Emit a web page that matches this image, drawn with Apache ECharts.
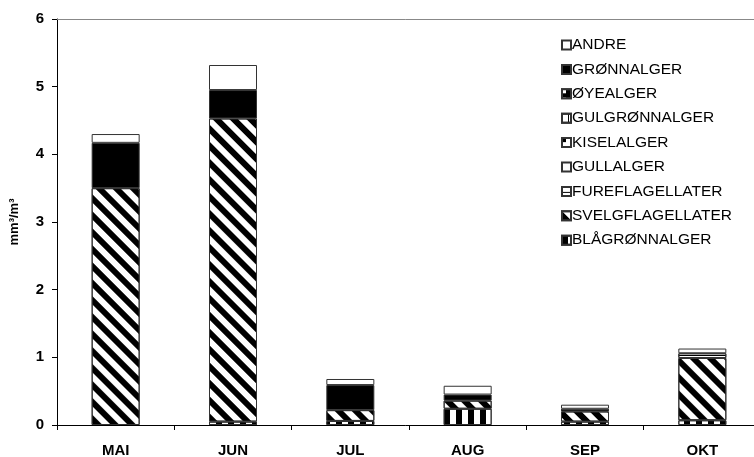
<!DOCTYPE html>
<html>
<head>
<meta charset="utf-8">
<script src="https://cdn.jsdelivr.net/npm/echarts@6/dist/echarts.min.js"></script>
<style>html,body{margin:0;padding:0;background:#fff}#c{width:754px;height:457px}</style>
</head>
<body>
<div id="c"></div>
<script>
var categories = ['MAI', 'JUN', 'JUL', 'AUG', 'SEP', 'OKT'];
var yTicks = [0, 1, 2, 3, 4, 5, 6];
var blagronnalger = [0, 0.05, 0.06, 0.24, 0.05, 0.07];
var svelgflagellater = [3.50, 4.48, 0.16, 0.12, 0.15, 0.92];
var fureflagellater = [0, 0, 0, 0, 0.04, 0.07];
var gullalger = [0, 0, 0, 0, 0, 0];
var kiselalger = [0, 0, 0, 0, 0, 0];
var gulgronnalger = [0, 0, 0, 0, 0, 0];
var oyealger = [0, 0, 0, 0, 0, 0];
var gronnalger = [0.67, 0.42, 0.37, 0.09, 0, 0];
var andre = [0.13, 0.37, 0.09, 0.13, 0.06, 0.07];

var FONT = 'Liberation Sans, Arial, sans-serif';

var seriesDefs = [
  {name: 'BLÅGRØNNALGER', data: blagronnalger, color: '#fff',
   decal: {symbol: 'rect', symbolSize: 1, color: '#000', dashArrayX: [6, 6], dashArrayY: [1, 0], rotation: 0}},
  {name: 'SVELGFLAGELLATER', data: svelgflagellater, color: '#fff',
   decal: {symbol: 'rect', symbolSize: 1, color: '#000', dashArrayX: [1, 0], dashArrayY: [6, 6], rotation: Math.PI / 4}},
  {name: 'FUREFLAGELLATER', data: fureflagellater, color: '#fff',
   decal: {symbol: 'rect', symbolSize: 1, color: '#000', dashArrayX: [1, 0], dashArrayY: [1, 4], rotation: 0}},
  {name: 'GULLALGER', data: gullalger, color: '#fff', decal: null},
  {name: 'KISELALGER', data: kiselalger, color: '#fff',
   decal: {symbol: 'rect', symbolSize: 1, color: '#000', dashArrayX: [4, 4], dashArrayY: [4, 4], rotation: 0}},
  {name: 'GULGRØNNALGER', data: gulgronnalger, color: '#fff',
   decal: {symbol: 'rect', symbolSize: 1, color: '#000', dashArrayX: [1, 0], dashArrayY: [1, 6], rotation: Math.PI / 2}},
  {name: 'ØYEALGER', data: oyealger, color: '#000',
   decal: {symbol: 'rect', symbolSize: 1, color: '#fff', dashArrayX: [4, 4], dashArrayY: [4, 4], rotation: 0}},
  {name: 'GRØNNALGER', data: gronnalger, color: '#000', decal: null},
  {name: 'ANDRE', data: andre, color: '#fff', decal: null}
];

var series = seriesDefs.map(function (d) {
  var st = {color: d.color, borderColor: '#333', borderWidth: 1};
  if (d.decal) st.decal = d.decal;
  return {
    name: d.name,
    type: 'bar',
    stack: 'total',
    barWidth: 48,
    data: d.data.map(function (v) { return v > 0 ? v : null; }),
    itemStyle: st,
    emphasis: {disabled: true},
    animation: false
  };
});

var legendOrder = seriesDefs.map(function (d) { return d.name; }).reverse();

var chart = echarts.init(document.getElementById('c'), null, {renderer: 'canvas'});
chart.setOption({
  backgroundColor: '#fff',
  animation: false,
  grid: {left: 57, right: -7, top: 19, bottom: 32, containLabel: false, outerBoundsMode: 'none'},
  legend: {
    orient: 'vertical',
    left: 561,
    top: 37,
    padding: 0,
    data: legendOrder,
    icon: 'rect',
    itemWidth: 9,
    itemHeight: 9,
    itemGap: 8.4,
    selectedMode: false,
    textStyle: {fontFamily: FONT, fontSize: 15.5, color: '#000', lineHeight: 16, padding: [0, 0, 0, -4]}
  },
  xAxis: [{
    type: 'category',
    data: categories,
    axisLine: {lineStyle: {color: '#000', width: 1}},
    axisTick: {show: true, length: 5, lineStyle: {color: '#000'}},
    axisLabel: {fontFamily: FONT, fontSize: 15, fontWeight: 'bold', color: '#000', margin: 18}
  }, {
    type: 'category',
    position: 'top',
    data: categories,
    axisLine: {show: true, lineStyle: {color: '#888', width: 1}},
    axisTick: {show: false},
    axisLabel: {show: false}
  }],
  yAxis: {
    type: 'value',
    min: yTicks[0],
    max: yTicks[yTicks.length - 1],
    interval: 1,
    name: 'mm³/m³',
    nameLocation: 'middle',
    nameRotate: 90,
    nameGap: 36,
    nameTextStyle: {fontFamily: FONT, fontSize: 13, fontWeight: 'bold', color: '#000'},
    axisLine: {show: true, lineStyle: {color: '#000', width: 1}},
    axisTick: {show: true, length: 5, lineStyle: {color: '#000'}},
    axisLabel: {fontFamily: FONT, fontSize: 15, fontWeight: 'bold', color: '#000', margin: 13},
    splitLine: {show: false}
  },
  series: series
});
</script>
</body>
</html>
